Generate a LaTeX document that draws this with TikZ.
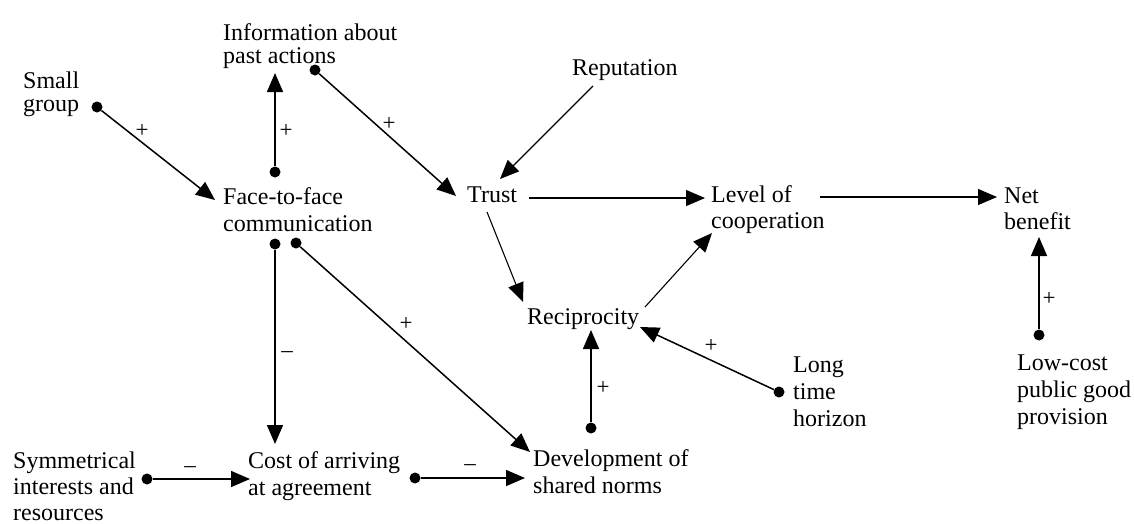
\documentclass[tikz,border=0pt]{standalone}
\usepackage{fontspec}
\setmainfont{Liberation Serif}
\usetikzlibrary{arrows.meta}
\begin{document}
\begin{tikzpicture}[x=1pt,y=-1pt,
  % anchor = baseline of the LAST line of the node text
  txt/.style={anchor=base west, inner sep=0pt, align=left, font=\fontsize{24}{26}\selectfont},
  txtw/.style={txt, font=\fontsize{24}{27}\selectfont},
  txtn/.style={txt, font=\fontsize{24}{23}\selectfont},
  dot/.style={circle, fill=black, inner sep=0pt, minimum size=11pt},
  lbl/.style={inner sep=0pt, font=\fontsize{23}{23}\selectfont},
  link/.style={line width=1.1pt, -{Triangle[length=19pt,width=16pt]}},
  dlink/.style={link, line width=1.5pt}]
\useasboundingbox[fill=white] (0,0) rectangle (1134,523);

% concept nodes
\node[txtn] (sg)   at (23,111)  {Small\\group};
\node[txtn] (info) at (223,63)  {Information about\\past actions};
\node[txtw] (ftf)  at (223,231) {Face-to-face\\communication};
\node[txt]  (rep)  at (572,75)  {Reputation};
\node[txt]  (trust) at (467,202) {Trust};
\node[txt]  (loc)  at (711,228) {Level of\\cooperation};
\node[txt]  (net)  at (1004,229) {Net\\benefit};
\node[txt]  (rec)  at (527,324) {Reciprocity};
\node[txtw] (lth)  at (793,426) {Long\\time\\horizon};
\node[txtw] (lcp)  at (1017,424) {Low-cost\\public good\\provision};
\node[txt]  (sym)  at (13,520)  {Symmetrical\\interests and\\resources};
\node[txtw] (cost) at (248,495) {Cost of arriving\\at agreement};
\node[txtw] (dev)  at (533,493) {Development of\\shared norms};

% dots (origins of signed links)
\node[dot] (d-sg)   at (97,107)  {};
\node[dot] (d-info) at (315,70)  {};
\node[dot] (d-ftf1) at (275,172) {};
\node[dot] (d-ftf2) at (275,244) {};
\node[dot] (d-ftf3) at (296,243) {};
\node[dot] (d-sym)  at (147,479) {};
\node[dot] (d-cost) at (415,478) {};
\node[dot] (d-dev)  at (591,428) {};
\node[dot] (d-lth)  at (779,392) {};
\node[dot] (d-lcp)  at (1039,335) {};

% connector end points
\coordinate (t-ftf)    at (215,200);
\coordinate (t-info)   at (275,73);
\coordinate (t-trust1) at (456,196);
\coordinate (s-rep)    at (593,86);
\coordinate (t-trust2) at (500,179);
\coordinate (s-trust1) at (529,198);
\coordinate (t-loc1)   at (705,198);
\coordinate (s-loc)    at (820,197);
\coordinate (t-net1)   at (997,197);
\coordinate (s-trust2) at (487,212);
\coordinate (t-rec1)   at (523,302);
\coordinate (s-rec)    at (645,307);
\coordinate (t-loc2)   at (712,233);
\coordinate (t-net2)   at (1039,237);
\coordinate (t-rec2)   at (591,330);
\coordinate (t-rec3)   at (640,327);
\coordinate (t-cost1)  at (275,444);
\coordinate (t-dev1)   at (530,452);
\coordinate (t-cost2)  at (250,479);
\coordinate (t-dev2)   at (525,478);

% connectors
\draw[dlink] (d-sg) -- (t-ftf);
\draw[dlink] (d-ftf1) -- (t-info);
\draw[dlink] (d-info) -- (t-trust1);
\draw[link]  (s-rep) -- (t-trust2);
\draw[link]  (s-trust1) -- (t-loc1);
\draw[link]  (s-loc) -- (t-net1);
\draw[link]  (s-trust2) -- (t-rec1);
\draw[link]  (s-rec) -- (t-loc2);
\draw[dlink] (d-lcp) -- (t-net2);
\draw[dlink] (d-dev) -- (t-rec2);
\draw[dlink] (d-lth) -- (t-rec3);
\draw[dlink] (d-ftf2) -- (t-cost1);
\draw[dlink] (d-ftf3) -- (t-dev1);
\draw[dlink] (d-sym) -- (t-cost2);
\draw[dlink] (d-cost) -- (t-dev2);

% sign labels
\node[lbl] (l-sg)    at (142,131) {+};
\node[lbl] (l-up)    at (286,131) {+};
\node[lbl] (l-info)  at (389,124) {+};
\node[lbl] (l-fc)    at (287,355) {–};
\node[lbl] (l-fd)    at (406,324) {+};
\node[lbl] (l-sym)   at (190,470) {–};
\node[lbl] (l-cost)  at (470,468) {–};
\node[lbl] (l-dev)   at (603,388) {+};
\node[lbl] (l-lth)   at (711,346) {+};
\node[lbl] (l-lcp)   at (1049,299) {+};
\end{tikzpicture}
\end{document}
